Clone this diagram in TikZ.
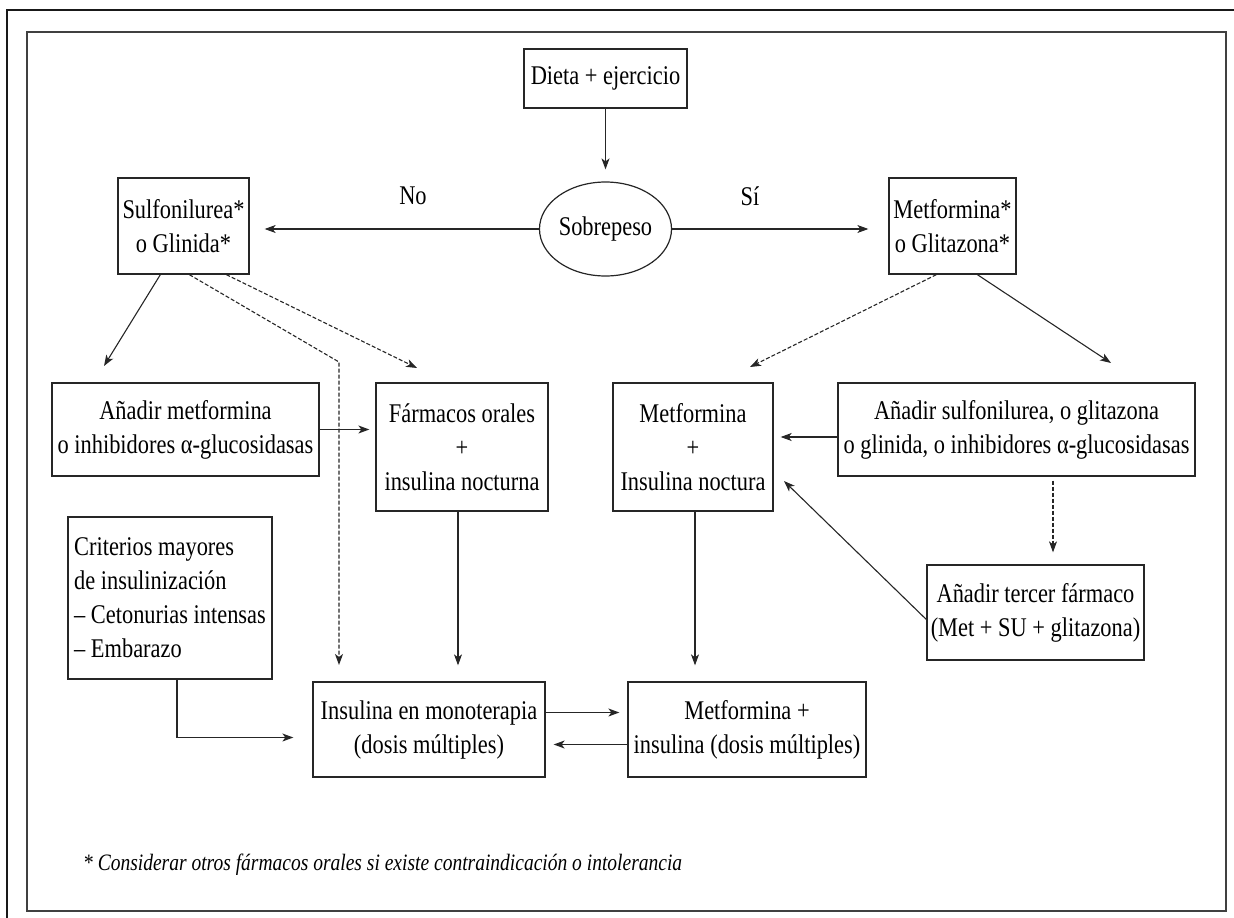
\documentclass[tikz,border=0pt]{standalone}
\usepackage{fontspec}
\setmainfont{Liberation Serif}[FakeStretch=0.83]
\usetikzlibrary{shapes.geometric,arrows.meta,calc}
\begin{document}
\begin{tikzpicture}[x=1pt,y=-1pt,
  txt/.style={font=\fontsize{27}{34}\selectfont, align=center},
  box/.style={txt, draw=black!85, line width=1.3pt, inner sep=0pt},
  arr/.style={draw=black!85, line width=1.1pt, -{Stealth[length=11pt,width=8pt,inset=3pt]}},
  dsh/.style={arr, dash pattern=on 4pt off 2pt},
  lbl/.style={font=\fontsize{27}{34}\selectfont}
]
\useasboundingbox (0,0) rectangle (1234,918);
% frames
\draw[line width=2.5pt, black!90] (7,918) -- (7,10) -- (1234,10);
\draw[line width=2pt, black!75] (27,32) rectangle (1226,911);

% nodes
\node[box, minimum width=163pt, minimum height=59pt] (dieta) at (605.5,78.5) {Dieta + ejercicio};
\node[txt, draw=black!85, line width=1.2pt, ellipse, inner sep=0pt, minimum width=121pt, minimum height=94pt] (sobre) at (605.5,229) {Sobrepeso};
\node[box, minimum width=131pt, minimum height=96pt] (sulf) at (183.5,226) {Sulfonilurea*\\o Glinida*};
\node[box, minimum width=127pt, minimum height=96pt] (metf) at (952.5,226) {Metformina*\\o Glitazona*};
\node[box, minimum width=267pt, minimum height=93pt] (anmet) at (185.5,429.5) {Añadir metformina\\o inhibidores α-glucosidasas};
\node[box, minimum width=172pt, minimum height=128pt] (farm) at (462,447) {Fármacos orales\\+\\insulina nocturna};
\node[box, minimum width=160pt, minimum height=128pt] (metins) at (693,447) {Metformina\\+\\Insulina noctura};
\node[box, minimum width=357pt, minimum height=93pt] (ansulf) at (1016.5,429.5) {Añadir sulfonilurea, o glitazona\\o glinida, o inhibidores α-glucosidasas};
\node[box, align=left, minimum width=204pt, minimum height=162pt] (crit) at (170,598) {Criterios mayores\\de insulinización\\– Cetonurias intensas\\– Embarazo};
\node[box, minimum width=232pt, minimum height=95pt] (insmono) at (429,729.5) {Insulina en monoterapia\\(dosis múltiples)};
\node[box, minimum width=238pt, minimum height=95pt] (metinsdm) at (747,729.5) {Metformina +\\insulina (dosis múltiples)};
\node[box, minimum width=217pt, minimum height=95pt] (tercer) at (1035.5,612.5) {Añadir tercer fármaco\\(Met + SU + glitazona)};

\node[lbl] (no) at (413,196) {No};
\node[lbl] (si) at (750,196) {Sí};

\node[anchor=base west, inner sep=0pt, font=\fontsize{23.5}{28}\selectfont\itshape] (foot) at (83,870) {* Considerar otros fármacos orales si existe contraindicación o intolerancia};

% tip coordinates
\coordinate (t1) at (104,366);
\coordinate (bend) at (339,362);
\coordinate (t2) at (339,665);
\coordinate (t3) at (417,368);
\coordinate (t4) at (750,367);
\coordinate (t5) at (1111,363);
\coordinate (t6) at (784,481);

% connectors
\draw[arr, shorten >=12pt] (dieta.south) -- (sobre.north);
\draw[arr, shorten >=15pt] (sobre.west) -- (sobre.west -| sulf.east);
\draw[arr, shorten >=20pt] (sobre.east) -- (sobre.east -| metf.west);
\draw[arr] ($(sulf.south west)+(43,0)$) -- (t1);
\draw[dsh] ($(sulf.south west)+(72,0)$) -- (bend) -- (t2);
\draw[dsh] ($(sulf.south west)+(109,0)$) -- (t3);
\draw[arr, shorten >=6pt] (anmet.east) -- (anmet.east -| farm.west);
\draw[arr, shorten >=16pt] ([xshift=-4pt]farm.south) -- ([xshift=-4pt]farm.south |- insmono.north);
\draw[arr, shorten >=19pt] ([xshift=7pt]crit.south) |- ([yshift=-8pt]insmono.west);
\draw[arr, shorten >=8pt] ([yshift=17pt]insmono.east) -- ([yshift=17pt]insmono.east -| metinsdm.west);
\draw[arr, shorten >=8pt] ([yshift=-15pt]metinsdm.west) -- ([yshift=-15pt]metinsdm.west -| insmono.east);
\draw[dsh] ($(metf.south west)+(48,0)$) -- (t4);
\draw[arr] ($(metf.south west)+(89,0)$) -- (t5);
\draw[arr, shorten >=7pt] ([yshift=-7.5pt]ansulf.west) -- ([yshift=-7.5pt]ansulf.west -| metins.east);
\draw[dsh, shorten >=12pt, shorten <=4pt] ([xshift=36.5pt]ansulf.south) -- ([xshift=36.5pt]ansulf.south |- tercer.north);
\draw[arr] ([yshift=-7pt]tercer.west) -- (t6);
\draw[arr, shorten >=16pt] ([xshift=2pt]metins.south) -- ([xshift=2pt]metins.south |- metinsdm.north);
\end{tikzpicture}
\end{document}
